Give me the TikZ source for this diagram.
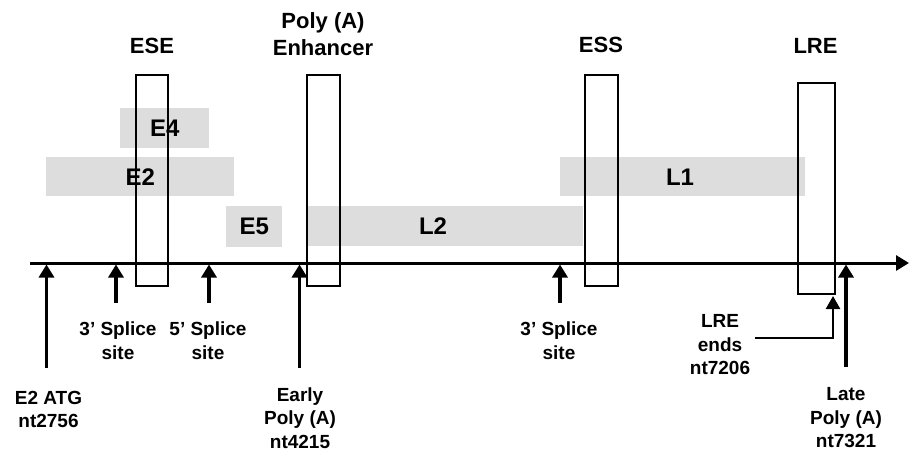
\documentclass[tikz,border=0pt]{standalone}
\usepackage{fontspec}
\setmainfont{Liberation Sans}
\usetikzlibrary{arrows.meta}
\definecolor{barfill}{HTML}{DDDDDD}
\begin{document}
\begin{tikzpicture}[x=1pt,y=-1pt,
  bar/.style={fill=barfill, draw=none, inner sep=0, anchor=north west,
    font=\fontsize{24}{28}\selectfont\bfseries},
  barlabel/.style={inner sep=0, font=\fontsize{24}{28}\selectfont\bfseries},
  sitebox/.style={draw=black, line width=2pt, fill=none, inner sep=0},
  toplabel/.style={inner sep=0, anchor=north, align=center,
    font=\fontsize{22}{27}\selectfont\bfseries},
  sitelabel/.style={inner sep=0, anchor=north, align=center,
    font=\fontsize{19}{23.5}\selectfont\bfseries},
  tipshape/.style={-{Triangle[width=15pt,length=13pt]}},
  marker/.style={tipshape, line width=3.5pt},
  pointer/.style={-{Triangle[width=14pt,length=13pt]}, line width=2.5pt},
  axisline/.style={tipshape, line width=3pt}]
\useasboundingbox (0,0) rectangle (910,453);

% transcript regions (grey bars)
\node[bar, minimum width=89pt, minimum height=40pt] (e4) at (120,108) {E4};
\node[bar, minimum width=188pt, minimum height=39pt] (e2) at (46,157) {E2};
\node[bar, minimum width=56pt, minimum height=41pt] (e5) at (226,206) {E5};
\node[bar, minimum width=276pt, minimum height=40pt] (l2bar) at (307,206) {};
\node[barlabel] (l2) at (433,226.5) {L2};
\node[bar, minimum width=245pt, minimum height=39pt] (l1bar) at (560,157) {};
\node[barlabel] (l1) at (680,177) {L1};

% regulatory elements (open boxes)
\node[sitebox, minimum width=32pt, minimum height=211pt] (ese) at (152,180.5) {};
\node[sitebox, minimum width=33pt, minimum height=211pt] (pae) at (323.5,180.5) {};
\node[sitebox, minimum width=33pt, minimum height=211pt] (ess) at (601.5,180.5) {};
\node[sitebox, minimum width=37pt, minimum height=211pt] (lre) at (816.5,188.5) {};

% element names
\node[toplabel] (ese-name) at (152,37.5) {ESE};
\node[toplabel] (pae-name) at (323,12.5) {Poly (A)\\Enhancer};
\node[toplabel] (ess-name) at (601,37) {ESS};
\node[toplabel] (lre-name) at (815.5,38.5) {LRE};

% genome axis
\coordinate (axis-start) at (30,263);
\coordinate (axis-end) at (909,263);
\draw[axisline] (axis-start) -- (axis-end);

% position markers
\coordinate (atg-tail) at (46.5,368);   \coordinate (atg-tip) at (46.5,264.5);
\coordinate (sa1-tail) at (116,303);    \coordinate (sa1-tip) at (116,264.5);
\coordinate (sd-tail) at (209,303);     \coordinate (sd-tip) at (209,264.5);
\coordinate (epa-tail) at (299.5,368);  \coordinate (epa-tip) at (299.5,264.5);
\coordinate (sa2-tail) at (560,303);    \coordinate (sa2-tip) at (560,264.5);
\coordinate (lpa-tail) at (846,367);    \coordinate (lpa-tip) at (846,264.5);
\coordinate (lre-tail) at (755,338);    \coordinate (lre-tip) at (833,296);

\draw[marker] (atg-tail) -- (atg-tip);
\draw[marker] (sa1-tail) -- (sa1-tip);
\draw[marker] (sd-tail) -- (sd-tip);
\draw[marker] (epa-tail) -- (epa-tip);
\draw[marker] (sa2-tail) -- (sa2-tip);
\draw[marker] (lpa-tail) -- (lpa-tip);
\draw[pointer] (lre-tail) -| (lre-tip);

% marker labels
\node[sitelabel] (atg-label) at (48.5,391) {E2 ATG\\nt2756};
\node[sitelabel] (sa1-label) at (118,322) {3’ Splice\\site};
\node[sitelabel] (sd-label) at (208,322) {5’ Splice\\site};
\node[sitelabel] (epa-label) at (300,387.5) {Early\\Poly (A)\\nt4215};
\node[sitelabel] (sa2-label) at (559,322) {3’ Splice\\site};
\node[sitelabel] (lre-label) at (720,314.5) {LRE\\ends\\nt7206};
\node[sitelabel] (lpa-label) at (846,387.5) {Late\\Poly (A)\\nt7321};
\end{tikzpicture}
\end{document}
